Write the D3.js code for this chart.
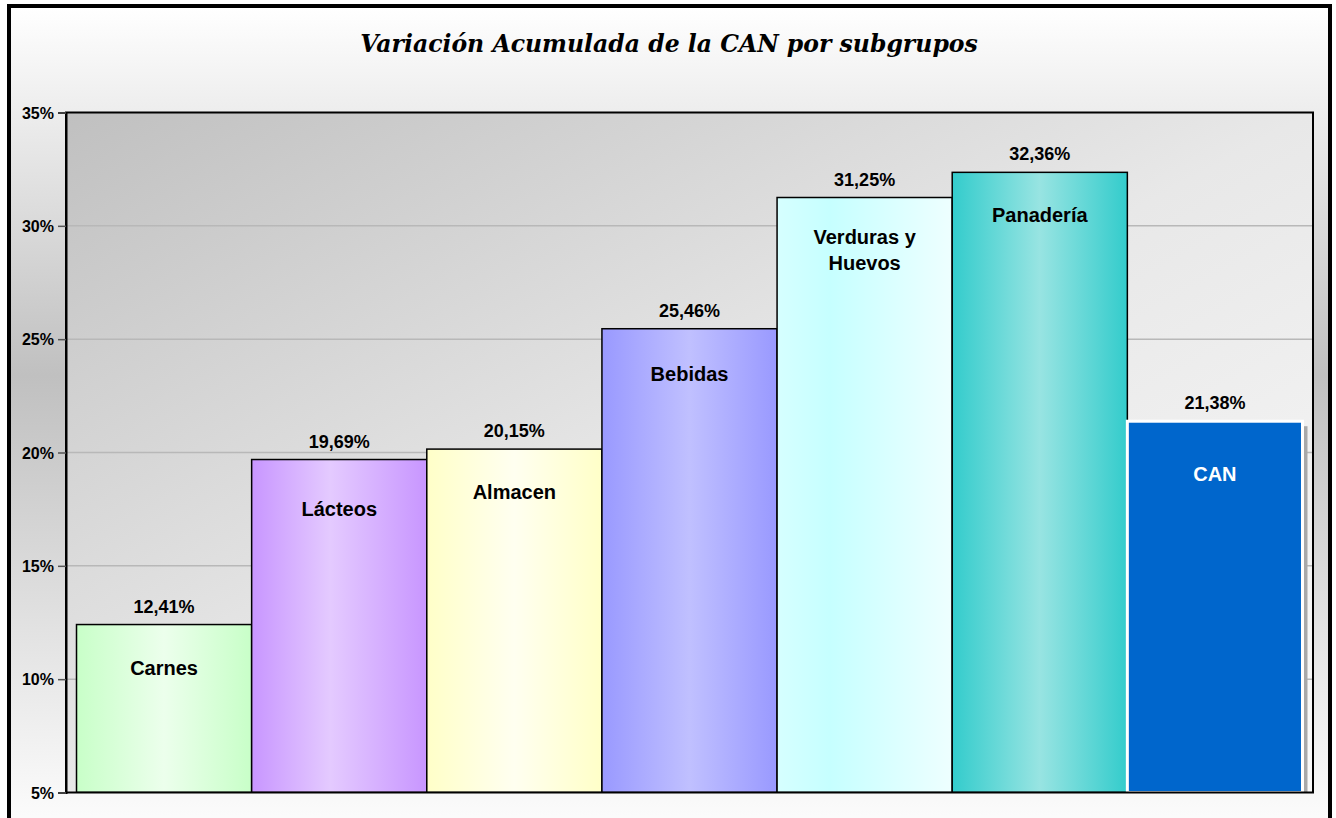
<!DOCTYPE html>
<html>
<head>
<meta charset="utf-8">
<script src="https://cdn.jsdelivr.net/npm/d3@7"></script>
<style>
  body { margin: 0; background: #ffffff; }
  svg { display: block; }
</style>
</head>
<body>
<div id="chart"></div>
<script>
// data
var categories = ["Carnes", "Lácteos", "Almacen", "Bebidas", "Verduras y\nHuevos", "Panadería", "CAN"];
var values = [12.41, 19.69, 20.15, 25.46, 31.25, 32.36, 21.38];
var yTicks = [5, 10, 15, 20, 25, 30, 35];
var title = "Variación Acumulada de la CAN por subgrupos";

// bar fills (edge / centre colours of the horizontal gradients)
var barStops = [
    [["0%", "#c8ffc8"], ["50%", "#ecffec"], ["100%", "#c8ffc8"]],
    [["0%", "#c896ff"], ["45%", "#e4caff"], ["100%", "#c896ff"]],
    [["0%", "#ffffc8"], ["50%", "#fffff0"], ["100%", "#ffffc8"]],
    [["0%", "#9999ff"], ["50%", "#c0c0ff"], ["100%", "#9999ff"]],
    [["0%", "#d6ffff"], ["30%", "#c6ffff"], ["100%", "#eeffff"]],
    [["0%", "#33cccc"], ["50%", "#98e4e2"], ["100%", "#33cccc"]],
    [["0%", "#0066cc"], ["100%", "#0066cc"]]
];
// small vertical nudges of the name labels inside the bars
var nameShift = [0, 6, 0, 2, -4, 0, 10];

var W = 1336, H = 818;
var plot = {left: 66, right: 1313, top: 112.5, bottom: 792.5};

var fmt = d3.formatLocale({decimal: ",", thousands: ".", grouping: [3], currency: ["", ""]}).format(".2f");

var svg = d3.select("#chart").append("svg")
    .attr("width", W)
    .attr("height", H);

var defs = svg.append("defs");

var bg = defs.append("linearGradient")
    .attr("id", "bgGrad")
    .attr("x1", 0).attr("y1", 0).attr("x2", 0).attr("y2", 1);
bg.append("stop").attr("offset", "0%").attr("stop-color", "#ffffff");
bg.append("stop").attr("offset", "44%").attr("stop-color", "#c0c0c0");
bg.append("stop").attr("offset", "100%").attr("stop-color", "#ffffff");

var pg = defs.append("linearGradient")
    .attr("id", "plotGrad")
    .attr("x1", 0).attr("y1", 0).attr("x2", 1).attr("y2", 1);
pg.append("stop").attr("offset", "0%").attr("stop-color", "#c0c0c0");
pg.append("stop").attr("offset", "50%").attr("stop-color", "#e8e8e8");
pg.append("stop").attr("offset", "100%").attr("stop-color", "#fafafa");

barStops.forEach(function (stops, i) {
    var g = defs.append("linearGradient")
        .attr("id", "bar" + i)
        .attr("x1", 0).attr("y1", 0).attr("x2", 1).attr("y2", 0);
    stops.forEach(function (s) {
        g.append("stop").attr("offset", s[0]).attr("stop-color", s[1]);
    });
});

defs.append("clipPath").attr("id", "plotClip")
    .append("rect")
    .attr("x", plot.left).attr("y", plot.top)
    .attr("width", plot.right - plot.left)
    .attr("height", plot.bottom - plot.top);

// chart area
svg.append("rect")
    .attr("x", 9).attr("y", 6)
    .attr("width", 1321).attr("height", 840)
    .attr("fill", "url(#bgGrad)")
    .attr("stroke", "#000")
    .attr("stroke-width", 4);

// scales
var x = d3.scaleBand()
    .domain(categories)
    .range([plot.left, plot.right])
    .paddingInner(0)
    .paddingOuter(0.06);

var y = d3.scaleLinear()
    .domain([5, 35])
    .range([plot.bottom, plot.top]);

// plot area
svg.append("rect")
    .attr("x", plot.left).attr("y", plot.top)
    .attr("width", plot.right - plot.left)
    .attr("height", plot.bottom - plot.top)
    .attr("fill", "url(#plotGrad)");

// gridlines
svg.append("g")
    .selectAll("line")
    .data(yTicks.slice(1, -1))
    .enter().append("line")
    .attr("x1", plot.left).attr("x2", plot.right)
    .attr("y1", function (d) { return y(d); })
    .attr("y2", function (d) { return y(d); })
    .attr("stroke", "#b8b8b8")
    .attr("stroke-width", 1.5);

// bars
var bars = svg.append("g").attr("clip-path", "url(#plotClip)");
var last = categories.length - 1;

bars.append("rect")
    .attr("x", x(categories[last]) + 5)
    .attr("y", y(values[last]) + 5)
    .attr("width", x.bandwidth())
    .attr("height", plot.bottom - y(values[last]))
    .attr("fill", "#a8a8a8");

bars.selectAll(".bar")
    .data(values)
    .enter().append("rect")
    .attr("class", "bar")
    .attr("x", function (d, i) { return x(categories[i]); })
    .attr("y", function (d) { return y(d); })
    .attr("width", x.bandwidth())
    .attr("height", function (d) { return plot.bottom - y(d); })
    .attr("fill", function (d, i) { return "url(#bar" + i + ")"; })
    .attr("stroke", function (d, i) { return i === last ? "#ffffff" : "#000000"; })
    .attr("stroke-width", function (d, i) { return i === last ? 3 : 1.5; });

// plot border
svg.append("rect")
    .attr("x", plot.left).attr("y", plot.top)
    .attr("width", plot.right - plot.left)
    .attr("height", plot.bottom - plot.top)
    .attr("fill", "none")
    .attr("stroke", "#000")
    .attr("stroke-width", 2);

// y axis
var yAxis = svg.append("g")
    .attr("transform", "translate(" + plot.left + ",0)")
    .call(d3.axisLeft(y)
        .tickValues(yTicks)
        .tickFormat(function (d) { return d + "%"; })
        .tickSize(8)
        .tickPadding(4));
yAxis.select(".domain").attr("stroke", "#000").attr("stroke-width", 2);
yAxis.selectAll(".tick line").attr("stroke", "#555").attr("stroke-width", 1.5);
yAxis.selectAll(".tick text")
    .attr("font-family", "'Liberation Sans', Arial, sans-serif")
    .attr("font-size", 16)
    .attr("font-weight", "bold")
    .attr("fill", "#000")
    .attr("dy", "0.36em");

// value labels
svg.append("g")
    .selectAll("text")
    .data(values)
    .enter().append("text")
    .attr("x", function (d, i) { return x(categories[i]) + x.bandwidth() / 2; })
    .attr("y", function (d) { return y(d) - 12; })
    .attr("text-anchor", "middle")
    .attr("font-family", "'Liberation Sans', Arial, sans-serif")
    .attr("font-size", 18)
    .attr("font-weight", "bold")
    .attr("fill", "#000")
    .text(function (d) { return fmt(d) + "%"; });

// category labels inside bars
var names = svg.append("g")
    .selectAll("text")
    .data(categories)
    .enter().append("text")
    .attr("x", function (d) { return x(d) + x.bandwidth() / 2; })
    .attr("y", function (d, i) { return y(values[i]) + 50 + nameShift[i]; })
    .attr("text-anchor", "middle")
    .attr("font-family", "'Liberation Sans', Arial, sans-serif")
    .attr("font-size", 20)
    .attr("font-weight", "bold")
    .attr("fill", function (d, i) { return i === last ? "#ffffff" : "#000000"; });

names.each(function (d) {
    var t = d3.select(this);
    var parts = d.split("\n");
    parts.forEach(function (p, k) {
        t.append("tspan")
            .attr("x", t.attr("x"))
            .attr("dy", k === 0 ? 0 : 26)
            .text(p);
    });
});

// title
var tt = svg.append("text")
    .attr("x", 669)
    .attr("y", 52)
    .attr("text-anchor", "middle")
    .attr("font-family", "'DejaVu Serif', serif")
    .attr("font-style", "italic")
    .attr("font-weight", "bold")
    .attr("font-size", 24)
    .attr("fill", "#000")
    .text(title);
var tw = tt.node().getComputedTextLength();
tt.attr("font-size", 24 * 618 / tw);
</script>
</body>
</html>
